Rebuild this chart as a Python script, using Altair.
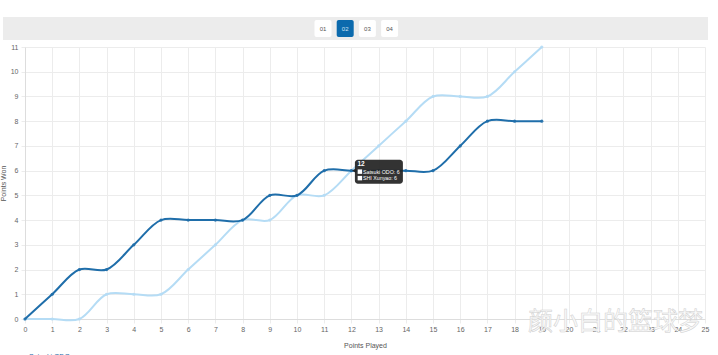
import altair as alt
import pandas as pd

points_played = list(range(20))
odo = [0, 1, 2, 2, 3, 4, 4, 4, 4, 5, 5, 6, 6, 6, 6, 6, 7, 8, 8, 8]
shi = [0, 0, 0, 1, 1, 1, 2, 3, 4, 4, 5, 5, 6, 7, 8, 9, 9, 9, 10, 11]
players = ["Satsuki ODO", "SHI Xunyao"]
colors = ["#1f6eaa", "#b5dcf5"]
games = ["01", "02", "03", "04"]
selected_game = "02"
hover_x = 12
watermark = "颜小白的篮球梦"

df = pd.DataFrame({
    "played": points_played * 2,
    "won": odo + shi,
    "player": [players[0]] * len(odo) + [players[1]] * len(shi),
})

FONT = "Liberation Sans"
W, H = 680, 272

xs = alt.Scale(domain=[0, 25], nice=False)
ys = alt.Scale(domain=[0, 11], nice=False)
cs = alt.Scale(domain=players, range=colors)

x_axis = alt.Axis(values=list(range(26)), format="d", labelFontSize=7, labelColor="#666",
                  labelOverlap=False, labelFlush=False,
                  titleFontSize=7, titleColor="#555", titleFontWeight="normal",
                  titlePadding=9, gridColor="#ececec", domainColor="#ddd",
                  tickColor="#ececec", tickSize=4, labelPadding=2, labelFont=FONT, titleFont=FONT)
y_axis = alt.Axis(values=list(range(12)), format="d", labelFontSize=7, labelColor="#666",
                  labelOverlap=False, labelFlush=False,
                  titleFontSize=7, titleColor="#555", titleFontWeight="normal",
                  titlePadding=4, gridColor="#ececec", domainColor="#ddd",
                  tickColor="#ececec", tickSize=4, labelPadding=3, labelFont=FONT, titleFont=FONT)


def X(field):
    return alt.X(f"{field}:Q", scale=xs, title="Points Played", axis=x_axis)


def Y(field):
    return alt.Y(f"{field}:Q", scale=ys, title="Points Won", axis=y_axis)


base = alt.Chart(df)


def series(name, width):
    d = base.transform_filter(alt.datum.player == name)
    line = d.mark_line(interpolate="catmull-rom", strokeWidth=width).encode(
        x=X("played"), y=Y("won"), color=alt.Color("player:N", scale=cs, legend=None))
    pts = d.mark_point(filled=True, size=10, opacity=0.9).encode(
        x=X("played"), y=Y("won"), color=alt.Color("player:N", scale=cs, legend=None))
    return line + pts


light = series(players[1], 2)
dark = series(players[0], 2)

# watermark
wm = alt.Chart(pd.DataFrame({"t": [watermark]})).mark_text(
    font="Noto Sans CJK SC", fontSize=25, fill="#fafafa", stroke="#cfcfcf", strokeWidth=0.5,
    align="left", baseline="middle").encode(
    x=alt.value(503), y=alt.value(275), text="t:N")

# top bar with game buttons
bar = alt.Chart(pd.DataFrame({"a": [0]})).mark_rect(color="#ececec").encode(
    x=alt.value(-22), x2=alt.value(683), y=alt.value(-30), y2=alt.value(-7))
layers = [bar]
for i, g in enumerate(games):
    cx = 298 + 22.2 * i
    sel = g == selected_game
    btn = alt.Chart(pd.DataFrame({"g": [g]})).mark_rect(
        color="#0b6aad" if sel else "#ffffff", cornerRadius=2).encode(
        x=alt.value(cx - 8.5), x2=alt.value(cx + 8.5), y=alt.value(-27), y2=alt.value(-10))
    txt = alt.Chart(pd.DataFrame({"g": [g]})).mark_text(
        fontSize=6, font=FONT, color="#cfe3f3" if sel else "#555").encode(
        x=alt.value(cx), y=alt.value(-18.5), text="g:N")
    layers += [btn, txt]

# tooltip
hx = hover_x
hy_odo = odo[points_played.index(hx)]
hy_shi = shi[points_played.index(hx)]
tip_df = pd.DataFrame({"played": [hx], "won": [hy_odo]})
tb = alt.Chart(tip_df)
TX, TY = X("played"), Y("won")
tip_box = tb.mark_rect(width=48, height=24, cornerRadius=3, color="#222", opacity=0.92,
                       xOffset=27.5, yOffset=1).encode(x=TX, y=TY)
tip_arrow = tb.mark_point(shape="triangle-left", filled=True, size=18, color="#222", opacity=0.92,
                          xOffset=2.5).encode(x=TX, y=TY)
tip_title = tb.mark_text(fontSize=6.5, fontWeight="bold", color="white", font=FONT, align="left",
                         xOffset=6, yOffset=-6.5).encode(x=TX, y=TY, text=alt.value(str(hx)))
tip_sq1 = tb.mark_square(size=20, color="white", opacity=1, xOffset=8.5, yOffset=1).encode(x=TX, y=TY)
tip_sq2 = tb.mark_square(size=20, color="white", opacity=1, xOffset=8.5, yOffset=7.5).encode(x=TX, y=TY)
tip_l1 = tb.mark_text(fontSize=5.3, color="white", font=FONT, align="left", xOffset=11.5, yOffset=1).encode(
    x=TX, y=TY, text=alt.value(f"{players[0]}: {hy_odo}"))
tip_l2 = tb.mark_text(fontSize=5.3, color="white", font=FONT, align="left", xOffset=11.5, yOffset=7.5).encode(
    x=TX, y=TY, text=alt.value(f"{players[1]}: {hy_shi}"))

# bottom legend (cut off by window)
leg_sq = alt.Chart(pd.DataFrame({"a": [0]})).mark_square(size=16, color=colors[0]).encode(
    x=alt.value(-6), y=alt.value(310))
leg_tx = alt.Chart(pd.DataFrame({"t": [players[0]]})).mark_text(
    fontSize=7, font=FONT, color="#1f6eaa", align="left", baseline="top").encode(
    x=alt.value(4), y=alt.value(306), text="t:N")

chart = alt.layer(
    wm, *layers, light, dark,
    tip_box, tip_arrow, tip_title, tip_sq1, tip_sq2, tip_l1, tip_l2, leg_sq, leg_tx
).properties(
    width=W, height=H,
    autosize=alt.AutoSizeParams(type="none"),
    padding={"left": 25, "top": 47, "right": 13, "bottom": 36},
).configure(background="white").configure_view(stroke=None)

chart.save("out.html", embed_options={"renderer": "svg", "actions": False})
